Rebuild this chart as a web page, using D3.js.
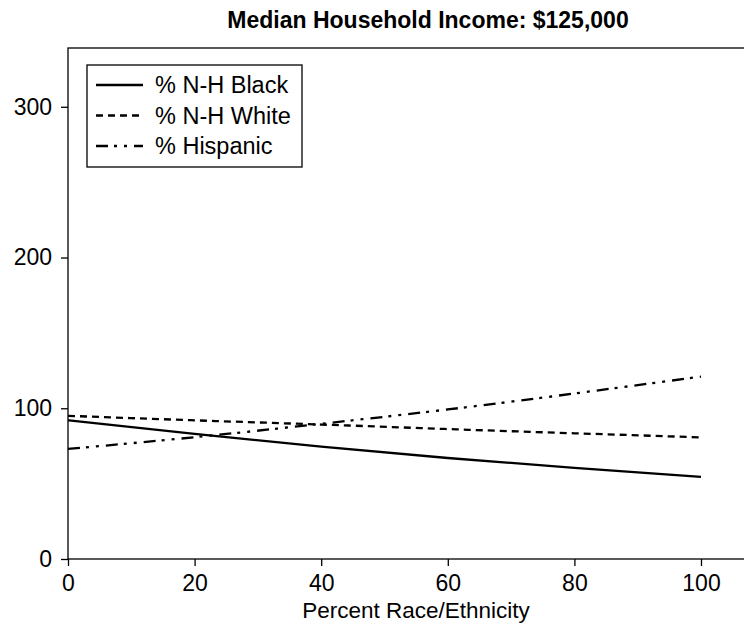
<!DOCTYPE html>
<html>
<head>
<meta charset="utf-8">
<script src="https://cdn.jsdelivr.net/npm/d3@7"></script>
<style>
    body { margin: 0; background: #fff; }
    svg { display: block; }
</style>
</head>
<body>
<div id="chart"></div>
<script>
// values (income index vs percent of group)
const pctX = [0, 20, 40, 60, 80, 100];
const blackVals = [92, 83, 74.5, 67, 60.5, 54.5];
const whiteVals = [95, 92, 89.2, 86.2, 83.4, 80.7];
const hispanicVals = [73, 80.8, 89.7, 99.2, 109.8, 121];

const seriesNames = ['% N-H Black', '% N-H White', '% Hispanic'];
const xTicks = [0, 20, 40, 60, 80, 100];
const yTicks = [0, 100, 200, 300];
const chartTitle = 'Median Household Income: $125,000';
const xLabel = 'Percent Race/Ethnicity';

const width = 744, height = 635;
const font = '"Liberation Sans", Arial, Helvetica, sans-serif';

const svg = d3.select('#chart').append('svg')
    .attr('width', width)
    .attr('height', height)
    .style('font-family', font);

const x = d3.scaleLinear().domain([0, 100]).range([68, 701]);
const y = d3.scaleLinear().domain([0, 339]).range([559, 48]);

// plot frame (right side runs off the canvas)
svg.append('rect')
    .attr('x', x(0))
    .attr('y', y(339))
    .attr('width', 720)
    .attr('height', y(0) - y(339))
    .attr('fill', 'none')
    .attr('stroke', '#000')
    .attr('stroke-width', 1.3);

const xAxis = svg.append('g')
    .attr('transform', `translate(0, ${y(0)})`)
    .call(d3.axisBottom(x).tickValues(xTicks).tickSize(7).tickPadding(9).tickFormat(d3.format('d')));

const yAxis = svg.append('g')
    .attr('transform', `translate(${x(0)}, 0)`)
    .call(d3.axisLeft(y).tickValues(yTicks).tickSize(7).tickPadding(9).tickFormat(d3.format('d')));

[xAxis, yAxis].forEach(g => {
    g.select('.domain').remove();
    g.selectAll('.tick line').attr('stroke', '#000').attr('stroke-width', 1.3);
    g.selectAll('.tick text')
        .attr('fill', '#000')
        .style('font-size', '23px')
        .style('font-family', font);
});

svg.append('text')
    .attr('x', 428)
    .attr('y', 28)
    .attr('text-anchor', 'middle')
    .style('font-size', '23px')
    .style('font-weight', 'bold')
    .text(chartTitle);

svg.append('text')
    .attr('x', 416)
    .attr('y', 617.5)
    .attr('text-anchor', 'middle')
    .style('font-size', '22.5px')
    .text(xLabel);

const dashes = [null, '7,5', '12,6,3,7,3,7'];
const allVals = [blackVals, whiteVals, hispanicVals];

const line = d3.line()
    .x(d => x(d[0]))
    .y(d => y(d[1]))
    .curve(d3.curveNatural);

allVals.forEach((vals, i) => {
    svg.append('path')
        .datum(pctX.map((p, j) => [p, vals[j]]))
        .attr('d', line)
        .attr('fill', 'none')
        .attr('stroke', '#000')
        .attr('stroke-width', 2.3)
        .attr('stroke-dasharray', dashes[i]);
});

// legend
const legend = svg.append('g');

legend.append('rect')
    .attr('x', 87)
    .attr('y', 65)
    .attr('width', 215)
    .attr('height', 102)
    .attr('fill', '#fff')
    .attr('stroke', '#000')
    .attr('stroke-width', 1.3);

seriesNames.forEach((name, i) => {
    const ly = 85 + i * 30.5;
    legend.append('line')
        .attr('x1', 96)
        .attr('x2', 143)
        .attr('y1', ly)
        .attr('y2', ly)
        .attr('stroke', '#000')
        .attr('stroke-width', 2.3)
        .attr('stroke-dasharray', dashes[i]);

    legend.append('text')
        .attr('x', 155)
        .attr('y', ly + 8.3)
        .style('font-size', '23.5px')
        .text(name);
});
</script>
</body>
</html>
